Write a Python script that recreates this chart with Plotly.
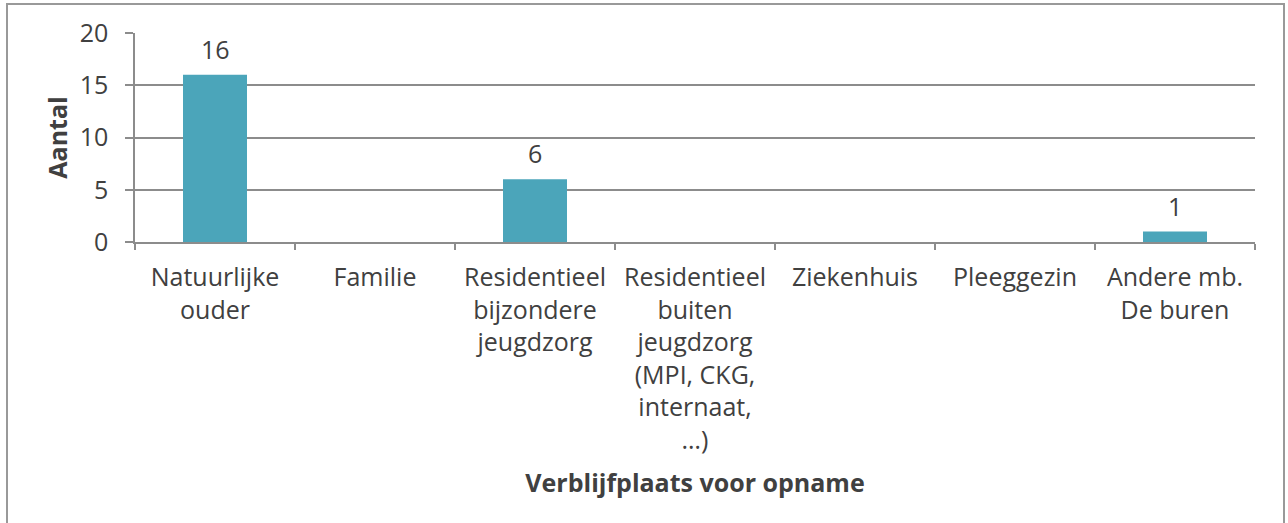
import plotly.graph_objects as go

categories = [
    "Natuurlijke<br>ouder",
    "Familie",
    "Residentieel<br>bijzondere<br>jeugdzorg",
    "Residentieel<br>buiten<br>jeugdzorg<br>(MPI, CKG,<br>internaat,<br>…)",
    "Ziekenhuis",
    "Pleeggezin",
    "Andere mb.<br>De buren",
]
values = [16, 0, 6, 0, 0, 0, 1]
labels = ["16", "", "6", "", "", "", "1"]
y_ticks = [0, 5, 10, 15, 20]

W, H = 1288, 523
L, R, T, B = 135, 33, 33, 281
pw, ph = W - L - R, H - T - B

txt = "#404040"
grid = "#8c8c8c"
font = "'Open Sans', Lato, sans-serif"

fig = go.Figure(go.Bar(
    x=categories, y=values,
    marker=dict(color="#4BA5BA", line=dict(width=0)),
    width=0.4, hoverinfo="skip",
))

annotations = [
    dict(x=c, y=v, text=t, xref="x", yref="y", showarrow=False,
         yanchor="bottom", yshift=7,
         font=dict(size=25, color=txt, family=font))
    for c, v, t in zip(categories, values, labels) if t
]

fig.update_layout(
    width=W, height=H,
    margin=dict(l=L, r=R, t=T, b=B, pad=0, autoexpand=False),
    plot_bgcolor="white", paper_bgcolor="white",
    showlegend=False,
    font=dict(family=font, color=txt, size=25),
    annotations=annotations,
    shapes=[dict(type="rect", xref="paper", yref="paper",
                 x0=(7 - L) / pw, x1=(1284 - L) / pw,
                 y0=(T + ph - 540) / ph,
                 y1=(T + ph - 4) / ph,
                 line=dict(color="#999999", width=2), layer="below")],
)

fig.update_xaxes(
    showline=True, linecolor=grid, linewidth=2,
    ticks="outside", ticklen=6, tickcolor=grid, tickwidth=1.5,
    tickson="boundaries", showgrid=False,
    ticklabelstandoff=12,
    tickfont=dict(size=25, color=txt, family=font),
    title=dict(text="<b>Verblijfplaats voor opname</b>", standoff=20,
               font=dict(size=25, color=txt, family=font)),
)
fig.update_yaxes(
    range=[0, 20], tickvals=y_ticks, showgrid=True, gridcolor=grid, gridwidth=1.5,
    showline=True, linecolor=grid, linewidth=1.5,
    ticks="outside", ticklen=8, tickcolor=grid, tickwidth=1.5,
    ticklabelstandoff=12, zeroline=False,
    tickfont=dict(size=25, color=txt, family=font),
    title=dict(text="<b>Aantal</b>", standoff=5,
               font=dict(size=25, color=txt, family=font)),
)

fig.write_html("out.html", config={"displayModeBar": False},
               post_script="document.body.style.margin='0';")
